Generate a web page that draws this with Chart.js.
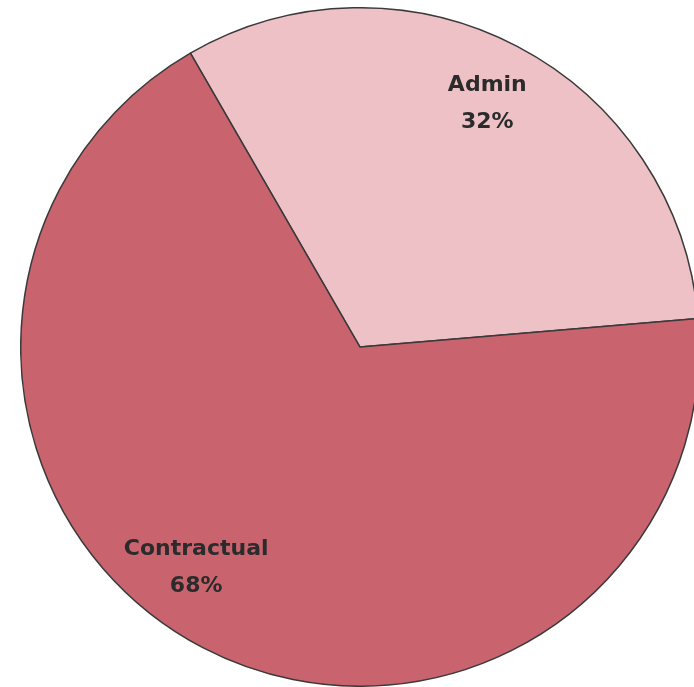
<!DOCTYPE html>
<html>
<head>
<meta charset="utf-8">
<script src="https://cdn.jsdelivr.net/npm/chart.js@4"></script>
<style>
  html, body { margin: 0; padding: 0; background: #fff; overflow: hidden; }
  body { width: 694px; height: 687px; position: relative; }
  #wrap { position: absolute; left: 20px; top: 7px; width: 680px; height: 680px; }
</style>
</head>
<body>
<div id="wrap"><canvas id="pieChart"></canvas></div>
<script>
// Staff cost split
const categories = ['Admin', 'Contractual'];
const shares = [32, 68];
const sliceColors = ['#eec1c7', '#c9646f'];

// Draws "Name" and "NN%" inside each slice
const sliceLabels = {
    id: 'sliceLabels',
    afterDatasetsDraw(chart, args, opts) {
        const ctx = chart.ctx;
        const meta = chart.getDatasetMeta(0);
        ctx.save();
        ctx.fillStyle = '#2b2b2b';
        ctx.font = 'bold 22px "DejaVu Sans", sans-serif';
        ctx.textAlign = 'center';
        ctx.textBaseline = 'middle';
        meta.data.forEach((arc, i) => {
            const shift = (opts.angleShift[i] || 0) * Math.PI / 180;
            const mid = (arc.startAngle + arc.endAngle) / 2 + shift;
            const r = arc.outerRadius * opts.radiusFrac;
            const x = arc.x + Math.cos(mid) * r;
            const y = arc.y + Math.sin(mid) * r;
            ctx.fillText(categories[i], x, y - 18);
            ctx.fillText(shares[i] + '%', x, y + 19);
        });
        ctx.restore();
    }
};

new Chart(document.getElementById('pieChart'), {
    type: 'pie',
    data: {
        labels: categories,
        datasets: [{
            data: shares,
            backgroundColor: sliceColors,
            borderColor: '#3a3a3a',
            borderWidth: 1.5
        }]
    },
    options: {
        responsive: true,
        maintainAspectRatio: false,
        animation: false,
        rotation: -30,
        layout: { padding: 0 },
        plugins: {
            legend: { display: false },
            tooltip: { enabled: false },
            sliceLabels: { radiusFrac: 0.81, angleShift: [0, 9] }
        }
    },
    plugins: [sliceLabels]
});
</script>
</body>
</html>
